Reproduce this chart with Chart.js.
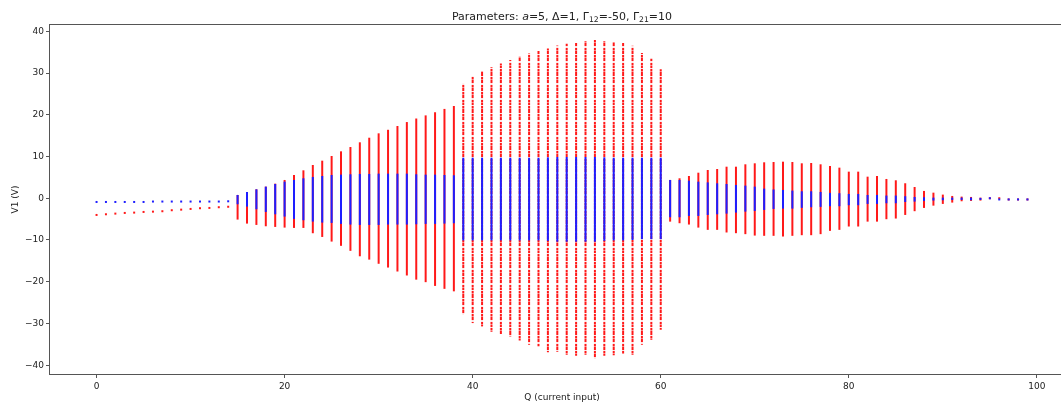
<!DOCTYPE html>
<html>
<head>
<meta charset="utf-8">
<script src="https://cdn.jsdelivr.net/npm/chart.js@4.4.0/dist/chart.umd.min.js"></script>
<style>
  html, body { margin: 0; padding: 0; background: #fff; overflow: hidden; }
  #wrap { width: 1085px; height: 407px; }
</style>
</head>
<body>
<div id="wrap"><canvas id="myChart" width="1085" height="407"></canvas></div>
<script>
// current input steps
const qValues = [
   0,  1,  2,  3,  4,  5,  6,  7,  8,  9, 10, 11, 12, 13, 14, 15, 16, 17, 18, 19,
  20, 21, 22, 23, 24, 25, 26, 27, 28, 29, 30, 31, 32, 33, 34, 35, 36, 37, 38, 39,
  40, 41, 42, 43, 44, 45, 46, 47, 48, 49, 50, 51, 52, 53, 54, 55, 56, 57, 58, 59,
  60, 61, 62, 63, 64, 65, 66, 67, 68, 69, 70, 71, 72, 73, 74, 75, 76, 77, 78, 79,
  80, 81, 82, 83, 84, 85, 86, 87, 88, 89, 90, 91, 92, 93, 94, 95, 96, 97, 98, 99
];

// V1 spread, red series (low / high) per Q
const redLow = [
  -3.76, -3.60, -3.44, -3.28, -3.20, -3.04, -2.97, -2.87, -2.63, -2.49,
  -2.32, -2.15, -2.08, -1.91, -1.80, -5.11, -6.07, -6.39, -6.71, -6.87,
  -7.03, -7.11, -7.11, -8.38, -9.27, -10.38, -11.40, -12.60, -13.90, -14.70,
  -15.70, -16.60, -17.55, -18.50, -19.50, -20.10, -21.00, -21.70, -22.30, -27.75,
  -29.90, -30.70, -32.00, -32.50, -33.10, -34.10, -35.10, -35.50, -36.90, -36.80,
  -37.50, -37.70, -37.50, -38.50, -37.70, -37.60, -37.30, -37.50, -35.10, -33.90,
  -31.50, -5.60, -5.98, -6.30, -7.03, -7.57, -7.57, -8.20, -8.37, -8.60,
  -8.94, -9.00, -9.00, -9.17, -9.00, -8.85, -8.85, -8.60, -7.81, -7.57,
  -6.77, -6.77, -5.60, -5.60, -5.02, -4.86, -4.00, -3.10, -2.32, -1.77,
  -1.36, -1.04, -0.72, -0.64, -0.56, -0.40, -0.40, -0.35, -0.35, -0.35
];
const redHigh = [
  -3.76, -3.60, -3.44, -3.28, -3.20, -3.04, -2.97, -2.87, -2.63, -2.49,
  -2.32, -2.15, -2.08, -1.91, -1.80, 0.79, 1.50, 2.14, 2.78, 3.50,
  4.38, 5.57, 6.69, 7.97, 9.00, 10.12, 11.24, 12.27, 13.40, 14.50,
  15.55, 16.40, 17.30, 18.25, 19.10, 19.85, 20.60, 21.40, 22.10, 27.50,
  29.20, 30.40, 31.40, 32.30, 33.10, 33.90, 34.70, 35.30, 35.90, 36.60,
  37.00, 37.20, 37.60, 37.90, 37.60, 37.40, 37.20, 36.50, 34.80, 33.40,
  30.90, 4.38, 4.78, 5.33, 6.12, 6.77, 7.00, 7.56, 7.56, 8.13,
  8.37, 8.61, 8.68, 8.76, 8.68, 8.37, 8.45, 8.13, 7.73, 7.33,
  6.37, 6.37, 5.17, 5.33, 4.62, 4.30, 3.59, 2.70, 1.75, 1.34,
  0.87, 0.55, 0.39, 0.31, 0.15, 0.00, 0.00, -0.05, -0.05, -0.05
];

// V1 spread, blue series (low / high) per Q
const blueLow = [
  -0.65, -0.65, -0.65, -0.65, -0.65, -0.65, -0.55, -0.55, -0.55, -0.55,
  -0.55, -0.55, -0.55, -0.55, -0.49, -1.44, -2.00, -2.64, -3.28, -3.84,
  -4.39, -4.95, -5.27, -5.59, -5.83, -5.91, -6.15, -6.30, -6.39, -6.39,
  -6.39, -6.30, -6.30, -6.30, -6.23, -6.15, -6.15, -6.07, -5.99, -10.10,
  -10.10, -10.10, -10.10, -10.10, -10.10, -10.10, -10.10, -10.10, -10.20, -10.40,
  -10.40, -10.40, -10.40, -10.40, -10.20, -10.10, -10.10, -10.00, -9.80, -9.80,
  -9.80, -4.55, -4.55, -4.23, -4.23, -4.00, -3.84, -3.68, -3.44, -3.20,
  -3.04, -2.80, -2.56, -2.48, -2.48, -2.30, -2.15, -2.07, -1.91, -1.91,
  -1.67, -1.67, -1.36, -1.36, -1.20, -1.20, -0.89, -0.80, -0.64, -0.56,
  -0.48, -0.40, -0.40, -0.48, -0.40, -0.40, -0.35, -0.35, -0.35, -0.35
];
const blueHigh = [
  -0.65, -0.65, -0.65, -0.65, -0.65, -0.65, -0.55, -0.55, -0.55, -0.55,
  -0.55, -0.55, -0.55, -0.55, -0.49, 0.79, 1.50, 2.14, 2.78, 3.42,
  3.98, 4.38, 4.78, 5.10, 5.33, 5.57, 5.65, 5.74, 5.82, 5.82,
  5.89, 5.89, 5.89, 5.89, 5.74, 5.65, 5.65, 5.57, 5.50, 9.70,
  9.70, 9.70, 9.70, 9.70, 9.70, 9.70, 9.70, 9.70, 9.80, 9.88,
  9.88, 9.88, 9.88, 9.88, 9.80, 9.70, 9.70, 9.70, 9.70, 9.70,
  9.70, 4.38, 4.38, 4.21, 3.97, 3.80, 3.57, 3.41, 3.18, 3.02,
  2.78, 2.30, 2.10, 1.99, 1.83, 1.67, 1.67, 1.51, 1.28, 1.20,
  1.03, 1.03, 0.79, 0.79, 0.64, 0.64, 0.48, 0.31, 0.23, 0.15,
  0.15, 0.15, 0.15, 0.15, 0.08, 0.00, -0.05, -0.05, -0.05, -0.05
];

const xTicks = [0, 20, 40, 60, 80, 100];
const yTicks = [-40, -30, -20, -10, 0, 10, 20, 30, 40];

const titleParts = [
  ['Parameters: ', ''], ['a', 'i'], ['=5, \u0394=1, \u0393', ''], ['12', 's'],
  ['=-50, \u0393', ''], ['21', 's'], ['=10', '']
];

const FONT = '"DejaVu Sans", sans-serif';
const RED = 'rgb(255,25,25)';
const BLUE = 'rgb(30,30,255)';

function fmt(v) {
  return v < 0 ? '\u2212' + Math.abs(v) : String(v);
}

// speckled red for the wide, chaotic band
function speckle() {
  const c = document.createElement('canvas');
  c.width = 2; c.height = 37;
  const g = c.getContext('2d');
  g.fillStyle = RED;
  g.fillRect(0, 0, 2, 37);
  g.fillStyle = 'rgb(255,225,225)';
  [2, 9, 10, 17, 24, 25, 31].forEach(r => g.fillRect(0, r, 2, 1));
  g.fillStyle = 'rgb(255,130,130)';
  [5, 13, 20, 28, 34].forEach(r => g.fillRect(0, r, 2, 1));
  return g.createPattern(c, 'repeat');
}
const redSpeckle = speckle();

const frame = {
  id: 'frame',
  afterDraw(chart) {
    const ctx = chart.ctx;
    const a = chart.chartArea;
    const cx = (a.left + a.right) / 2;
    ctx.save();
    ctx.strokeStyle = '#555';
    ctx.lineWidth = 1;
    ctx.strokeRect(a.left - 0.5, a.top - 0.5, a.right - a.left + 1, a.bottom - a.top + 1);

    // title with italic a and subscripts
    ctx.fillStyle = '#222';
    ctx.textBaseline = 'alphabetic';
    ctx.textAlign = 'left';
    const fonts = { '': '11px ' + FONT, 'i': 'italic 11px ' + FONT, 's': '7.7px ' + FONT };
    let w = 0;
    titleParts.forEach(p => { ctx.font = fonts[p[1]]; w += ctx.measureText(p[0]).width; });
    let x = cx - w / 2;
    titleParts.forEach(p => {
      ctx.font = fonts[p[1]];
      ctx.fillText(p[0], x, p[1] === 's' ? 21.5 : 19.5);
      x += ctx.measureText(p[0]).width;
    });

    // axis titles
    ctx.font = '9px ' + FONT;
    ctx.textAlign = 'center';
    ctx.fillText('Q (current input)', cx, 400);
    ctx.translate(18, (a.top + a.bottom) / 2);
    ctx.rotate(-Math.PI / 2);
    ctx.fillText('V1 (V)', 0, 0);
    ctx.restore();
  }
};

const barStyle = {
  barThickness: 2,
  maxBarThickness: 2,
  minBarLength: 2,
  grouped: false,
  borderWidth: 0,
  borderSkipped: false,
  inflateAmount: 0
};

const ctx = document.getElementById('myChart').getContext('2d');
const chart = new Chart(ctx, {
  type: 'bar',
  data: {
    datasets: [
      Object.assign({
        label: 'blue',
        data: qValues.map((q, i) => ({ x: q, y: [blueLow[i], blueHigh[i]] })),
        backgroundColor: BLUE,
        order: 0
      }, barStyle),
      Object.assign({
        label: 'red',
        data: qValues.map((q, i) => ({ x: q, y: [redLow[i], redHigh[i]] })),
        backgroundColor: c => (c.raw && c.raw.x >= 39 && c.raw.x <= 60) ? redSpeckle : RED,
        order: 1
      }, barStyle)
    ]
  },
  options: {
    responsive: false,
    animation: false,
    devicePixelRatio: 1,
    layout: { padding: { left: 0, top: 25, right: 11, bottom: 0 } },
    plugins: { legend: { display: false }, tooltip: { enabled: false }, title: { display: false } },
    scales: {
      x: {
        type: 'linear',
        min: -4.95,
        max: 103.95,
        offset: false,
        afterBuildTicks: s => { s.ticks = xTicks.map(v => ({ value: v })); },
        afterFit: s => { s.height = 33; },
        grid: { drawOnChartArea: false, drawTicks: true, tickLength: 4, color: '#555', offset: false },
        border: { display: false },
        ticks: { font: { family: FONT, size: 9 }, color: '#222', padding: 3, maxRotation: 0, callback: fmt }
      },
      y: {
        type: 'linear',
        min: -42.1,
        max: 41.5,
        afterBuildTicks: s => { s.ticks = yTicks.map(v => ({ value: v })); },
        afterFit: s => { s.width = 50; },
        grid: { drawOnChartArea: false, drawTicks: true, tickLength: 4, color: '#555' },
        border: { display: false },
        ticks: { font: { family: FONT, size: 9 }, color: '#222', padding: 2, callback: fmt }
      }
    }
  },
  plugins: [frame]
});
</script>
</body>
</html>
